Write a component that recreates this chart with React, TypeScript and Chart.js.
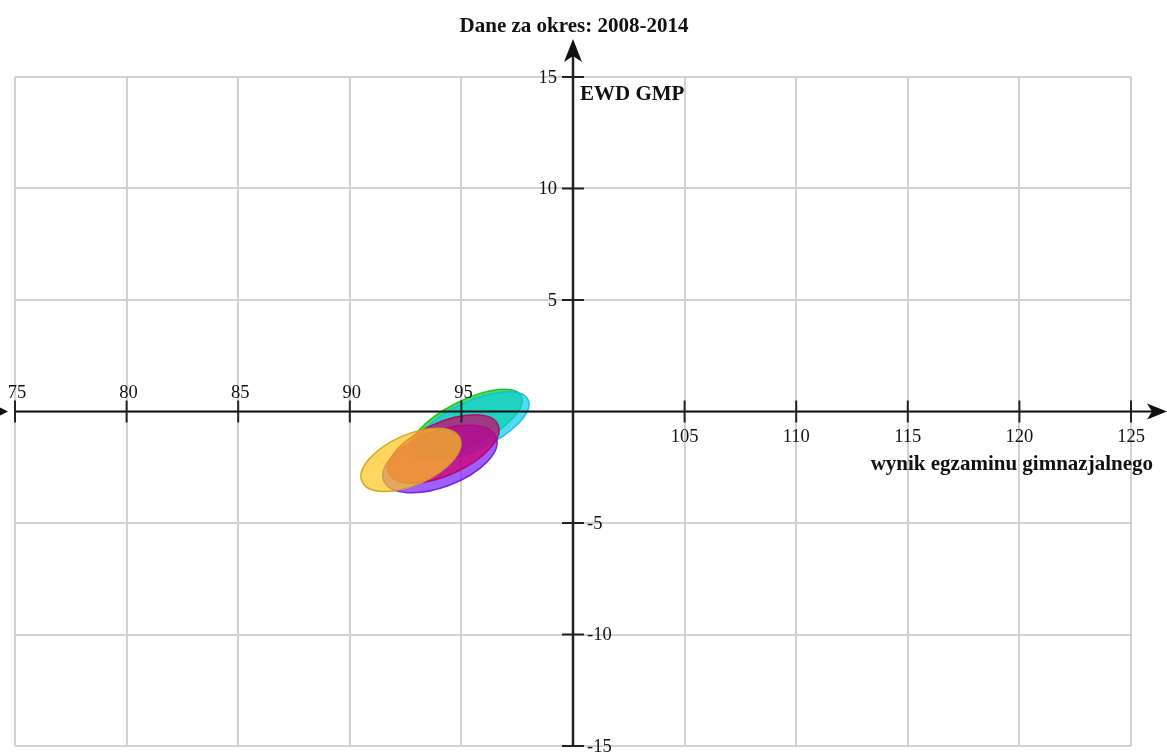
import React, { useEffect, useRef } from "react";
import { Chart, registerables } from "chart.js";

Chart.register(...registerables);

// ---- data ----
const TITLE = "Dane za okres: 2008-2014";
const X_TITLE = "wynik egzaminu gimnazjalnego";
const Y_TITLE = "EWD GMP";
const X_TICKS = [75, 80, 85, 90, 95, 100, 105, 110, 115, 120, 125];
const Y_TICKS = [-15, -10, -5, 0, 5, 10, 15];
const X_ORIGIN = 100;
const Y_ORIGIN = 0;

const PERIODS = ["2011-2013", "2012-2014", "2010-2012", "2009-2011", "2008-2010"];
const CENTER_X = [95.21, 95.47, 94.04, 94.2, 92.74];
const CENTER_Y = [-0.56, -0.65, -2.13, -1.68, -2.17];
const SEMI_MAJOR = [2.78, 2.78, 2.7, 2.67, 2.4];
const SEMI_MINOR = [1.03, 1.08, 1.25, 1.18, 1.13];
const ANGLE_DEG = [27, 25, 21, 24, 24];

const FILLS = [
  "rgba(10,205,20,0.7)",
  "rgba(10,205,235,0.7)",
  "rgba(120,25,250,0.7)",
  "rgba(205,0,110,0.72)",
  "rgba(255,198,26,0.7)",
];
const STROKES = [
  "rgba(20,190,30,0.9)",
  "rgba(10,190,230,0.9)",
  "rgba(110,20,230,0.9)",
  "rgba(185,0,100,0.9)",
  "rgba(200,160,30,0.9)",
];

const LABEL_FONT = "18.5px 'Liberation Serif', 'Times New Roman', serif";
const BOLD_FONT = "bold 21px 'Liberation Serif', 'Times New Roman', serif";

const ellipsePlugin = {
  id: "ellipses",
  beforeDatasetsDraw(chart: any) {
    const { ctx } = chart;
    const xs = chart.scales.x;
    const ys = chart.scales.y;
    ctx.save();
    chart.data.datasets.forEach((ds: any) => {
      const p = ds.data[0];
      const px = xs.getPixelForValue(p.x);
      const py = ys.getPixelForValue(p.y);
      const th = (ds.angle * Math.PI) / 180;
      const mx = xs.getPixelForValue(p.x + ds.a * Math.cos(th)) - px;
      const my = ys.getPixelForValue(p.y + ds.a * Math.sin(th)) - py;
      const nx = xs.getPixelForValue(p.x - ds.b * Math.sin(th)) - px;
      const ny = ys.getPixelForValue(p.y + ds.b * Math.cos(th)) - py;
      const rA = Math.hypot(mx, my);
      const rB = Math.hypot(nx, ny);
      const rot = Math.atan2(my, mx);
      ctx.beginPath();
      ctx.ellipse(px, py, rA, rB, rot, 0, Math.PI * 2);
      ctx.fillStyle = ds.backgroundColor;
      ctx.fill();
      ctx.lineWidth = 1.5;
      ctx.strokeStyle = ds.borderColor;
      ctx.stroke();
    });
    ctx.restore();
  },
};

const axesPlugin = {
  id: "centerAxes",
  afterDraw(chart: any) {
    const { ctx, chartArea, width } = chart;
    const xs = chart.scales.x;
    const ys = chart.scales.y;
    const x0 = xs.getPixelForValue(X_ORIGIN);
    const y0 = ys.getPixelForValue(Y_ORIGIN);
    ctx.save();

    // x axis line
    ctx.strokeStyle = "#111";
    ctx.lineWidth = 2;
    ctx.beginPath();
    ctx.moveTo(chartArea.left, y0);
    ctx.lineTo(width - 6, y0);
    ctx.stroke();
    // x arrow (right)
    ctx.fillStyle = "#111";
    ctx.beginPath();
    ctx.moveTo(width, y0);
    ctx.lineTo(width - 20, y0 - 8);
    ctx.lineTo(width - 15, y0);
    ctx.lineTo(width - 20, y0 + 8);
    ctx.closePath();
    ctx.fill();
    // small left arrow marker
    ctx.beginPath();
    ctx.moveTo(8, y0);
    ctx.lineTo(-6, y0 - 7);
    ctx.lineTo(-6, y0 + 7);
    ctx.closePath();
    ctx.fill();

    // y axis line
    ctx.strokeStyle = "#222";
    ctx.lineWidth = 2.5;
    ctx.beginPath();
    ctx.moveTo(x0, chartArea.bottom);
    ctx.lineTo(x0, 50);
    ctx.stroke();
    ctx.fillStyle = "#111";
    ctx.beginPath();
    ctx.moveTo(x0, 39);
    ctx.lineTo(x0 - 9, 62);
    ctx.lineTo(x0, 56);
    ctx.lineTo(x0 + 9, 62);
    ctx.closePath();
    ctx.fill();

    // ticks
    ctx.strokeStyle = "#222";
    ctx.lineWidth = 2;
    X_TICKS.forEach((v) => {
      if (v === X_ORIGIN) return;
      const px = xs.getPixelForValue(v);
      ctx.beginPath();
      ctx.moveTo(px, y0 - 11);
      ctx.lineTo(px, y0 + 11);
      ctx.stroke();
    });
    Y_TICKS.forEach((v) => {
      if (v === Y_ORIGIN) return;
      const py = ys.getPixelForValue(v);
      ctx.beginPath();
      ctx.moveTo(x0 - 11, py);
      ctx.lineTo(x0 + 11, py);
      ctx.stroke();
    });

    // tick labels
    ctx.fillStyle = "#111";
    ctx.font = LABEL_FONT;
    ctx.textAlign = "center";
    ctx.textBaseline = "alphabetic";
    X_TICKS.forEach((v) => {
      if (v === X_ORIGIN) return;
      const px = xs.getPixelForValue(v);
      if (v < X_ORIGIN) ctx.fillText(String(v), px + 2, y0 - 14);
      else ctx.fillText(String(v), px, y0 + 30);
    });
    ctx.textBaseline = "middle";
    Y_TICKS.forEach((v) => {
      if (v === Y_ORIGIN) return;
      const py = ys.getPixelForValue(v);
      if (v > Y_ORIGIN) {
        ctx.textAlign = "right";
        ctx.fillText(String(v), x0 - 16, py + 1);
      } else {
        ctx.textAlign = "left";
        ctx.fillText(String(v), x0 + 14, py + 1);
      }
    });

    // titles
    ctx.font = BOLD_FONT;
    ctx.textBaseline = "alphabetic";
    ctx.fillStyle = "#111";
    ctx.textAlign = "center";
    ctx.fillText(TITLE, x0 + 1, 32);
    ctx.textAlign = "left";
    ctx.fillText(Y_TITLE, x0 + 7, 100);
    ctx.textAlign = "right";
    ctx.fillText(X_TITLE, width - 14, 470);

    ctx.restore();
  },
};

export default function App() {
  const canvasRef = useRef<HTMLCanvasElement | null>(null);

  useEffect(() => {
    const canvas = canvasRef.current;
    if (!canvas) return;
    const datasets = PERIODS.map((label, i) => ({
      label,
      data: [{ x: CENTER_X[i], y: CENTER_Y[i] }],
      a: SEMI_MAJOR[i],
      b: SEMI_MINOR[i],
      angle: ANGLE_DEG[i],
      backgroundColor: FILLS[i],
      borderColor: STROKES[i],
      pointRadius: 0,
      showLine: false,
    }));
    const chart = new Chart(canvas, {
      type: "scatter",
      data: { datasets: datasets as any },
      options: {
        responsive: false,
        animation: false,
        events: [],
        layout: { padding: { left: 15, right: 36, top: 77, bottom: 9 } },
        plugins: {
          legend: { display: false },
          tooltip: { enabled: false },
          title: { display: false },
        },
        scales: {
          x: {
            type: "linear",
            min: X_TICKS[0],
            max: X_TICKS[X_TICKS.length - 1],
            afterBuildTicks: (s: any) => {
              s.ticks = X_TICKS.map((v) => ({ value: v }));
            },
            ticks: { display: false },
            grid: { color: "#d2d2d2", lineWidth: 2, drawTicks: false },
            border: { display: false },
          },
          y: {
            type: "linear",
            min: Y_TICKS[0],
            max: Y_TICKS[Y_TICKS.length - 1],
            afterBuildTicks: (s: any) => {
              s.ticks = Y_TICKS.map((v) => ({ value: v }));
            },
            ticks: { display: false },
            grid: { color: "#d2d2d2", lineWidth: 2, drawTicks: false },
            border: { display: false },
          },
        },
      },
      plugins: [ellipsePlugin, axesPlugin],
    });
    return () => chart.destroy();
  }, []);

  return (
    <div style={{ position: "fixed", left: 0, top: 0, width: 1167, height: 755, background: "#fff" }}>
      <canvas ref={canvasRef} width={1167} height={755} style={{ display: "block", width: 1167, height: 755 }} />
    </div>
  );
}
